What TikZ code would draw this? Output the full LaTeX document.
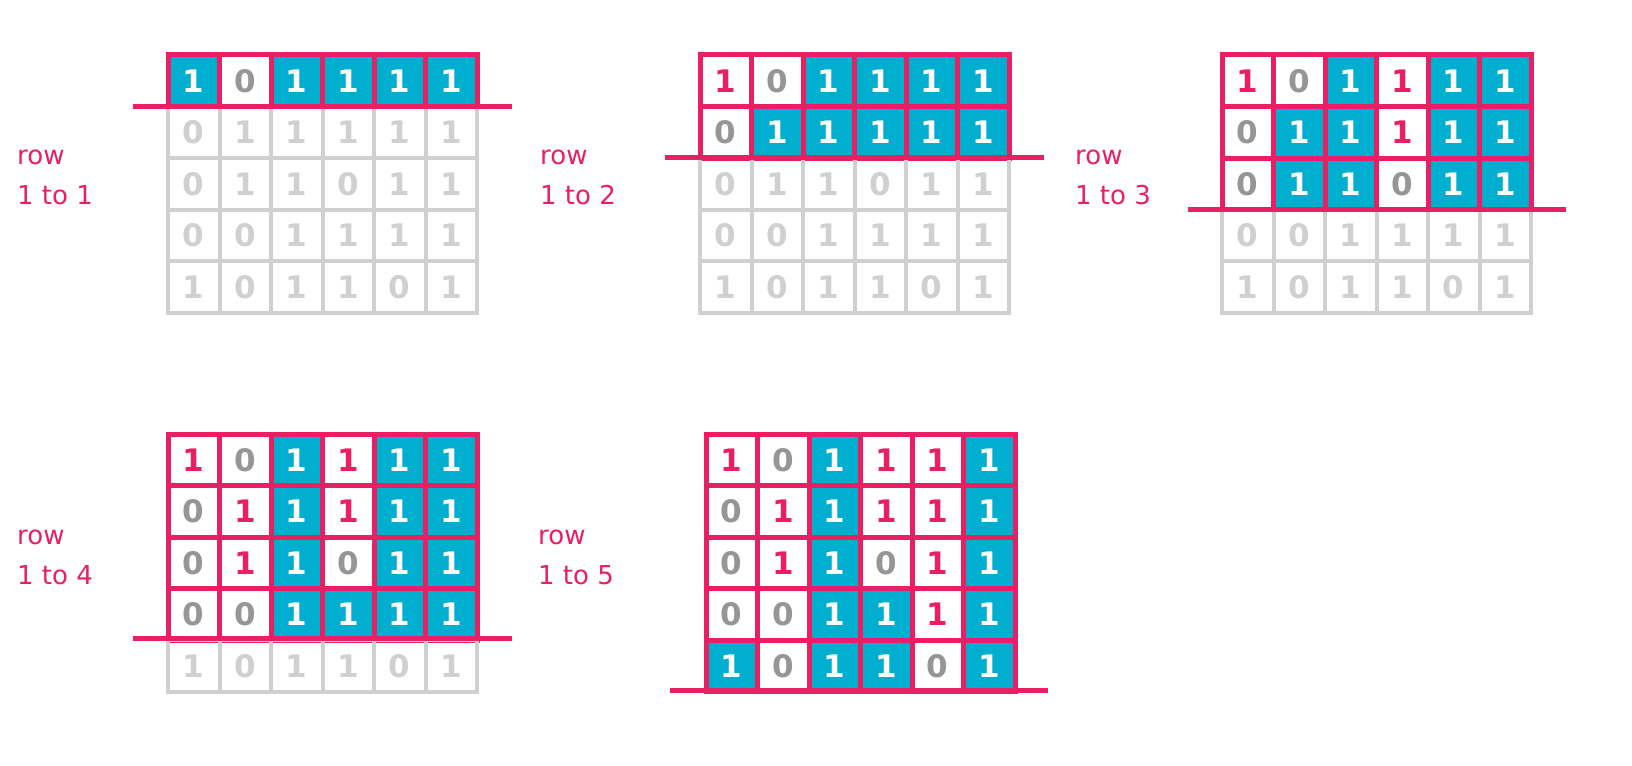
\documentclass[tikz,border=0pt]{standalone}
\usepackage{fontspec}
\setmainfont{DejaVu Sans}
\definecolor{pk}{RGB}{233,30,99}
\definecolor{cy}{RGB}{0,174,207}
\definecolor{lg}{RGB}{208,208,208}
\definecolor{dg}{RGB}{150,150,150}
\tikzset{
 cellbox/.style={minimum size=51.5bp,inner sep=0pt,line width=5bp,font=\fontsize{31bp}{31bp}\selectfont\bfseries},
 lgbox/.style={cellbox,line width=4bp,draw=lg,text=lg},
 pkline/.style={draw=pk,line width=5bp},
 lab/.style={text=pk,font=\fontsize{26bp}{40bp}\selectfont,align=left,anchor=north west,inner sep=0pt}
}
\newcommand\gcC[3]{\node[cellbox,draw=pk,fill=cy,text=white] (#1) at (#2,#3) {1};}
\newcommand\gcP[3]{\node[cellbox,draw=pk,fill=white,text=pk] (#1) at (#2,#3) {1};}
\newcommand\gcG[3]{\node[cellbox,draw=pk,fill=white,text=dg] (#1) at (#2,#3) {0};}
\newcommand\gcL[3]{\node[lgbox] (#1) at (#2,#3) {1};}
\newcommand\gcO[3]{\node[lgbox] (#1) at (#2,#3) {0};}
\newcommand\mygrid[4]{%
 \foreach \row [count=\r] in {#4} {
  \foreach \code [count=\c] in \row {
   \pgfmathsetmacro\px{#2+(\c-0.5)*51.5}
   \pgfmathsetmacro\py{#3+(\r-0.5)*51.5}
   \csname gc\code\endcsname{#1-\r-\c}{\px}{\py}
  }
 }}
\begin{document}
\begin{tikzpicture}[x=1bp,y=-1bp]
\useasboundingbox (0,0) rectangle (1632,766);
% grid 1
\mygrid{ga}{168}{55}{{C,G,C,C,C,C},{O,L,L,L,L,L},{O,L,L,O,L,L},{O,O,L,L,L,L},{L,O,L,L,O,L}}
\coordinate (ga1) at (133,106); \coordinate (ga2) at (512,106);
\draw[pkline] (ga1) -- (ga2);
\node[lab] (la) at (17,150) {row\\1 to 1};
% grid 2
\mygrid{gb}{700}{55}{{P,G,C,C,C,C},{G,C,C,C,C,C},{O,L,L,O,L,L},{O,O,L,L,L,L},{L,O,L,L,O,L}}
\coordinate (gb1) at (665,157); \coordinate (gb2) at (1044,157);
\draw[pkline] (gb1) -- (gb2);
\node[lab] (lb) at (540,150) {row\\1 to 2};
% grid 3
\mygrid{gc}{1222}{55}{{P,G,C,P,C,C},{G,C,C,P,C,C},{G,C,C,G,C,C},{O,O,L,L,L,L},{L,O,L,L,O,L}}
\coordinate (gc1) at (1188,209); \coordinate (gc2) at (1566,209);
\draw[pkline] (gc1) -- (gc2);
\node[lab] (lc) at (1075,150) {row\\1 to 3};
% grid 4
\mygrid{gd}{168}{434}{{P,G,C,P,C,C},{G,P,C,P,C,C},{G,P,C,G,C,C},{G,G,C,C,C,C},{L,O,L,L,O,L}}
\coordinate (gd1) at (133,638); \coordinate (gd2) at (512,638);
\draw[pkline] (gd1) -- (gd2);
\node[lab] (ld) at (17,530) {row\\1 to 4};
% grid 5
\mygrid{ge}{706}{434}{{P,G,C,P,P,C},{G,P,C,P,P,C},{G,P,C,G,P,C},{G,G,C,C,P,C},{C,G,C,C,G,C}}
\coordinate (ge1) at (670,690); \coordinate (ge2) at (1048,690);
\draw[pkline] (ge1) -- (ge2);
\node[lab] (le) at (538,530) {row\\1 to 5};
\end{tikzpicture}
\end{document}
